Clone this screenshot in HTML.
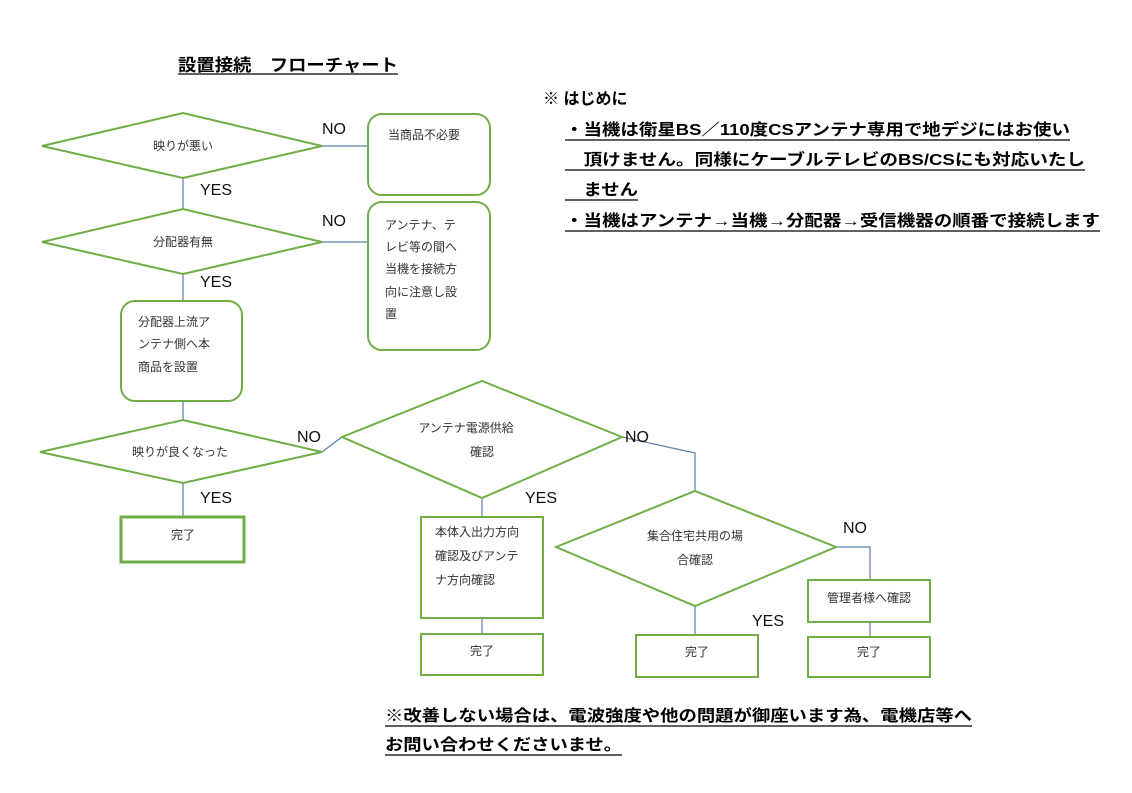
<!DOCTYPE html>
<html><head><meta charset="utf-8"><style>
html,body{margin:0;padding:0;background:#fff;}
svg{display:block;}
text{font-family:"Liberation Sans","Noto Sans CJK JP",sans-serif;}
.b{font-weight:bold;fill:#000;}
.n{font-size:12px;fill:#333;}
.l{font-size:16px;fill:#111;}
</style></head><body>
<svg width="1132" height="793" viewBox="0 0 1132 793" xmlns="http://www.w3.org/2000/svg">
<rect width="1132" height="793" fill="#fff"/>
<!-- title -->
<text x="178" y="71" class="b" font-size="17" textLength="220" lengthAdjust="spacingAndGlyphs">設置接続　フローチャート</text>
<line x1="178" y1="74" x2="398" y2="74" stroke="#000" stroke-width="1.3"/>
<!-- intro -->
<text x="543" y="104" class="b" font-size="16">※ はじめに</text>
<text x="565" y="135" class="b" font-size="16" textLength="505" lengthAdjust="spacingAndGlyphs">・当機は衛星BS／110度CSアンテナ専用で地デジにはお使い</text>
<line x1="565" y1="140" x2="1070" y2="140" stroke="#000" stroke-width="1.3"/>
<text x="565" y="165" class="b" font-size="16" textLength="520" lengthAdjust="spacingAndGlyphs">　頂けません。同様にケーブルテレビのBS/CSにも対応いたし</text>
<line x1="565" y1="170" x2="1085" y2="170" stroke="#000" stroke-width="1.3"/>
<text x="565" y="195" class="b" font-size="16" textLength="73" lengthAdjust="spacingAndGlyphs">　ません</text>
<line x1="565" y1="200" x2="638" y2="200" stroke="#000" stroke-width="1.3"/>
<text x="565" y="226" class="b" font-size="16" textLength="535" lengthAdjust="spacingAndGlyphs">・当機はアンテナ→当機→分配器→受信機器の順番で接続します</text>
<line x1="565" y1="231" x2="1100" y2="231" stroke="#000" stroke-width="1.3"/>
<!-- bottom note -->
<text x="385" y="721" class="b" font-size="16" textLength="587" lengthAdjust="spacingAndGlyphs">※改善しない場合は、電波強度や他の問題が御座います為、電機店等へ</text>
<line x1="385" y1="726" x2="972" y2="726" stroke="#000" stroke-width="1.3"/>
<text x="385" y="750" class="b" font-size="16" textLength="237" lengthAdjust="spacingAndGlyphs">お問い合わせくださいませ。</text>
<line x1="385" y1="755" x2="622" y2="755" stroke="#000" stroke-width="1.3"/>

<!-- connectors -->
<g stroke="#5b7fa8" stroke-width="1.2" fill="none">
<line x1="322" y1="146" x2="368" y2="146"/>
<line x1="183" y1="178" x2="183" y2="209"/>
<line x1="322" y1="242" x2="368" y2="242"/>
<line x1="183" y1="274" x2="183" y2="301"/>
<line x1="183" y1="401" x2="183" y2="420"/>
<polyline points="322,452 342,437"/>
<line x1="183" y1="483" x2="183" y2="517"/>
<line x1="482" y1="498" x2="482" y2="517"/>
<line x1="482" y1="618" x2="482" y2="634"/>
<polyline points="622,437 695,453 695,491"/>
<line x1="695" y1="606" x2="695" y2="635"/>
<polyline points="836,547 870,547 870,580"/>
<line x1="870" y1="622" x2="870" y2="637"/>
</g>

<!-- shapes -->
<g stroke="#70ad47" stroke-width="2" fill="#fff">
<polygon points="42,146 183,113 322,146 183,178"/>
<rect x="368" y="114" width="122" height="81" rx="14"/>
<polygon points="42,242 183,209 322,242 183,274"/>
<rect x="368" y="202" width="122" height="148" rx="14"/>
<rect x="121" y="301" width="121" height="100" rx="14"/>
<polygon points="40,452 183,420 322,452 183,483"/>
<polygon points="342,437 482,381 622,437 482,498"/>
<rect x="421" y="517" width="122" height="101"/>
<rect x="421" y="634" width="122" height="41"/>
<polygon points="556,547 695,491 836,547 695,606"/>
<rect x="636" y="635" width="122" height="42"/>
<rect x="808" y="580" width="122" height="42"/>
<rect x="808" y="637" width="122" height="40"/>
<rect x="121" y="517" width="123" height="45" stroke-width="3"/>
</g>

<!-- shape text -->
<text x="183" y="150" class="n" text-anchor="middle">映りが悪い</text>
<text x="388" y="139" class="n">当商品不必要</text>
<text x="183" y="246" class="n" text-anchor="middle">分配器有無</text>
<text x="385" y="229" class="n">アンテナ、テ</text>
<text x="385" y="251" class="n">レビ等の間へ</text>
<text x="385" y="273" class="n">当機を接続方</text>
<text x="385" y="296" class="n">向に注意し設</text>
<text x="385" y="318" class="n">置</text>
<text x="138" y="326" class="n">分配器上流ア</text>
<text x="138" y="348" class="n">ンテナ側へ本</text>
<text x="138" y="371" class="n">商品を設置</text>
<text x="180" y="456" class="n" text-anchor="middle">映りが良くなった</text>
<text x="466" y="432" class="n" text-anchor="middle">アンテナ電源供給</text>
<text x="482" y="456" class="n" text-anchor="middle">確認</text>
<text x="183" y="539" class="n" text-anchor="middle">完了</text>
<text x="435" y="536" class="n">本体入出力方向</text>
<text x="435" y="560" class="n">確認及びアンテ</text>
<text x="435" y="584" class="n">ナ方向確認</text>
<text x="482" y="655" class="n" text-anchor="middle">完了</text>
<text x="695" y="540" class="n" text-anchor="middle">集合住宅共用の場</text>
<text x="695" y="564" class="n" text-anchor="middle">合確認</text>
<text x="697" y="656" class="n" text-anchor="middle">完了</text>
<text x="869" y="602" class="n" text-anchor="middle">管理者様へ確認</text>
<text x="869" y="656" class="n" text-anchor="middle">完了</text>

<!-- labels -->
<text x="322" y="134" class="l">NO</text>
<text x="200" y="195" class="l">YES</text>
<text x="322" y="226" class="l">NO</text>
<text x="200" y="287" class="l">YES</text>
<text x="297" y="442" class="l">NO</text>
<text x="200" y="503" class="l">YES</text>
<text x="525" y="503" class="l">YES</text>
<text x="625" y="442" class="l">NO</text>
<text x="843" y="533" class="l">NO</text>
<text x="752" y="626" class="l">YES</text>
</svg>
</body></html>
